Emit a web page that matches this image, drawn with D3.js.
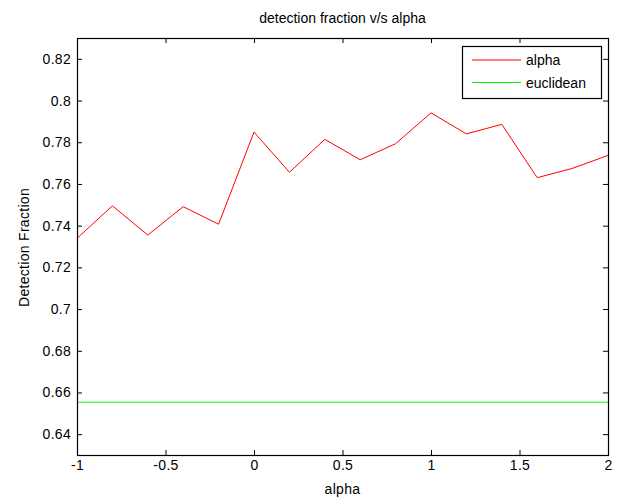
<!DOCTYPE html>
<html>
<head>
<meta charset="utf-8">
<script src="https://cdn.jsdelivr.net/npm/d3@7"></script>
<style>
  body { margin: 0; background: #fff; }
  svg { display: block; font-family: "Liberation Sans", Arial, sans-serif; }
</style>
</head>
<body>
<svg id="chart" width="617" height="497"></svg>
<script>
// data
const alphaValues = [-1, -0.8, -0.6, -0.4, -0.2, 0, 0.2, 0.4, 0.6, 0.8, 1, 1.2, 1.4, 1.6, 1.8, 2];
const alphaFraction = [0.7339, 0.7495, 0.7355, 0.7491, 0.7407, 0.7849, 0.7656, 0.7814,
                       0.7716, 0.7793, 0.7941, 0.7840, 0.7886, 0.7630, 0.7675, 0.7737];
const euclideanFraction = 0.6553;
const xTicks = [-1, -0.5, 0, 0.5, 1, 1.5, 2];
const yTicks = [0.64, 0.66, 0.68, 0.7, 0.72, 0.74, 0.76, 0.78, 0.8, 0.82];
const legendLabels = ['alpha', 'euclidean'];
const seriesColors = ['#ff0000', '#00ff00'];

(function() {
  let svg = d3.select('#chart');

  let left = 77, right = 608, top = 38, bottom = 455;
  let plotWidth = right - left, plotHeight = bottom - top;
  let tickLen = 5;

  let xScale = d3.scaleLinear().domain([-1, 2]).range([0, plotWidth]);
  let yScale = d3.scaleLinear().domain([0.63, 0.83]).range([plotHeight, 0]);

  let g = svg.append('g').attr('transform', `translate(${left}, ${top})`);

  // lines
  let data = alphaValues.map((a, i) => ({ x: a, y: alphaFraction[i] }));
  let line = d3.line().x((d) => xScale(d.x)).y((d) => yScale(d.y));

  g.append('path')
    .datum(data)
    .attr('fill', 'none')
    .attr('stroke', seriesColors[0])
    .attr('stroke-width', 1)
    .attr('d', line);

  g.append('path')
    .datum([{ x: -1, y: euclideanFraction }, { x: 2, y: euclideanFraction }])
    .attr('fill', 'none')
    .attr('stroke', seriesColors[1])
    .attr('stroke-width', 1)
    .attr('d', line);

  // axes, matlab style: inward ticks on all four sides
  let fmt = (d) => String(d);  // plain hyphen minus like the original
  let axisStyle = (sel) => {
    sel.select('.domain').remove();
    sel.selectAll('line').attr('stroke', '#000');
    sel.selectAll('text')
      .attr('fill', '#000')
      .attr('font-size', '14px')
      .attr('letter-spacing', '0.3px');
  };

  g.append('g')
    .attr('transform', `translate(0, ${plotHeight})`)
    .call(d3.axisBottom(xScale).tickValues(xTicks).tickSizeInner(-tickLen).tickPadding(5).tickFormat(fmt))
    .call(axisStyle);

  g.append('g')
    .call(d3.axisTop(xScale).tickValues(xTicks).tickSizeInner(-tickLen).tickFormat(''))
    .call(axisStyle);

  g.append('g')
    .call(d3.axisLeft(yScale).tickValues(yTicks).tickSizeInner(-tickLen).tickPadding(6).tickFormat(fmt))
    .call(axisStyle);

  g.append('g')
    .attr('transform', `translate(${plotWidth}, 0)`)
    .call(d3.axisRight(yScale).tickValues(yTicks).tickSizeInner(-tickLen).tickFormat(''))
    .call(axisStyle);

  // box
  g.append('rect')
    .attr('x', 0.5).attr('y', 0.5)
    .attr('width', plotWidth).attr('height', plotHeight)
    .attr('fill', 'none')
    .attr('stroke', '#000')
    .attr('stroke-width', 1.2);

  // title and axis labels
  svg.append('text')
    .attr('x', left + plotWidth / 2).attr('y', 23)
    .attr('text-anchor', 'middle')
    .attr('font-size', '14px')
    .text('detection fraction v/s alpha');

  svg.append('text')
    .attr('x', left + plotWidth / 2).attr('y', 494)
    .attr('text-anchor', 'middle')
    .attr('font-size', '14px')
    .attr('letter-spacing', '0.3px')
    .text('alpha');

  svg.append('text')
    .attr('transform', `translate(29, ${top + plotHeight / 2 + 1}) rotate(-90)`)
    .attr('text-anchor', 'middle')
    .attr('font-size', '14px')
    .attr('letter-spacing', '0.3px')
    .text('Detection Fraction');

  // legend
  let legend = svg.append('g').attr('transform', 'translate(462, 46)');
  legend.append('rect')
    .attr('x', 0.5).attr('y', 0.5)
    .attr('width', 139).attr('height', 52)
    .attr('fill', '#fff')
    .attr('stroke', '#000')
    .attr('stroke-width', 1.2);

  legendLabels.forEach((label, i) => {
    let ly = 14 + i * 22.5;
    legend.append('line')
      .attr('x1', 10).attr('x2', 59)
      .attr('y1', ly).attr('y2', ly)
      .attr('stroke', seriesColors[i])
      .attr('stroke-width', 1);
    legend.append('text')
      .attr('x', 64).attr('y', ly + 5)
      .attr('font-size', '14px')
      .text(label);
  });
})();
</script>
</body>
</html>
